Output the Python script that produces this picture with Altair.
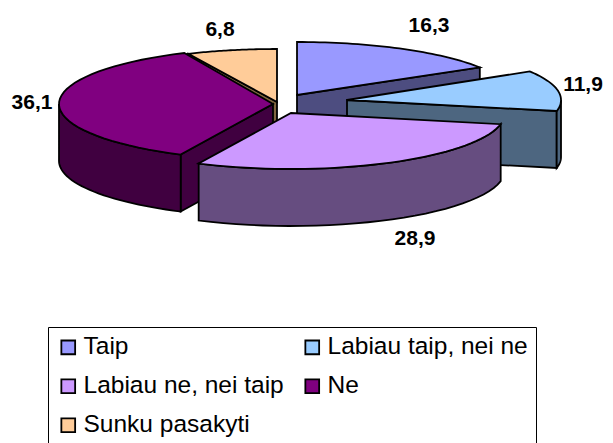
import numpy as np
import altair as alt

series = ["Taip", "Labiau taip, nei ne", "Labiau ne, nei taip", "Ne", "Sunku pasakyti"]
values = [16.3, 11.9, 28.9, 36.1, 6.8]
value_labels = ["16,3", "11,9", "28,9", "36,1", "6,8"]
top_colors = ["#9999ff", "#99ccff", "#cc99ff", "#800080", "#ffcc99"]
side_colors = ["#4d4d80", "#4d6680", "#664d80", "#400040", "#806640"]

# layout of the 3D projection
OX, OY = -8, -8
A, DEPTH = 214, 57
B = [53, 55, 56, 56, 53]
apex = [(297, 95), (347, 100), (291, 113), (273, 104), (277, 102)]
label_xy = [(429, 26), (583, 85), (415, 239), (32, 103), (220, 30)]

cum = np.concatenate([[0], np.cumsum(values)]) * 360 / sum(values)


def rim(i, t):
    r = np.radians(t)
    return (apex[i][0] + A * np.sin(r), apex[i][1] - B[i] * np.cos(r))


def feature(points, name, color):
    pts = [[float(x + OX), float(y + OY)] for x, y in points]
    pts.append(pts[0])
    return {"type": "Feature", "geometry": {"type": "Polygon", "coordinates": [pts]},
            "properties": {"series": name, "shade": color}}


def drop(points):
    return [(x, y + DEPTH) for x, y in reversed(points)]


def top_face(i):
    ts = np.linspace(cum[i], cum[i + 1], 40)
    return [feature([apex[i]] + [rim(i, t) for t in ts], series[i], top_colors[i])]


def cut_face(i, t):
    e = [apex[i], rim(i, t)]
    return feature(e + drop(e), series[i], side_colors[i])


def wall_face(i, lo, hi):
    e = [rim(i, t) for t in np.linspace(lo, hi, 30)]
    return feature(e + drop(e), series[i], side_colors[i])


color_scale = alt.Scale(domain=series, range=top_colors)
legend = alt.Legend(
    title=None, orient="none", legendX=40, legendY=319, direction="horizontal", columns=2,
    symbolType="square", symbolSize=190, symbolStrokeColor="#000000", symbolStrokeWidth=1.8,
    symbolOffset=0, labelFont="Liberation Sans", labelFontSize=24.5, labelColor="#000000", labelLimit=400,
    labelOffset=3, rowPadding=14, columnPadding=16, padding=8, gridAlign="all",
    strokeColor="#000000", fillColor="#ffffff", symbolOpacity=1,
)


def sides(feats):
    return alt.Chart(alt.Data(values=feats)).mark_geoshape(stroke="#000000", strokeWidth=1.8).encode(
        fill=alt.Fill("properties.shade:N", scale=None)
    ).project(type="identity", scale=1, translate=[0, 0])


def tops(feats):
    return alt.Chart(alt.Data(values=feats)).mark_geoshape(stroke="#000000", strokeWidth=1.8).encode(
        fill=alt.Fill("properties.series:N", scale=color_scale, legend=legend)
    ).project(type="identity", scale=1, translate=[0, 0])


layers = [
    sides([cut_face(0, cum[1])]), tops(top_face(0)),
    sides([cut_face(4, cum[4])]), tops(top_face(4)),
    sides([cut_face(3, cum[3]), wall_face(3, cum[3], 270)]), tops(top_face(3)),
    sides([cut_face(1, cum[2]), wall_face(1, 90, cum[2])]), tops(top_face(1)),
    sides([wall_face(2, cum[2], cum[3])]), tops(top_face(2)),
]

label_rows = [{"t": t, "px": x + OX, "py": y + OY} for t, (x, y) in zip(value_labels, label_xy)]
labels = alt.Chart(alt.Data(values=label_rows)).mark_text(
    font="Liberation Sans", fontWeight="bold", fontSize=21, color="#000000"
).encode(x=alt.X("px:Q", scale=None), y=alt.Y("py:Q", scale=None), text="t:N")

chart = alt.layer(*layers, labels).properties(
    width=597, height=435, padding=0, autosize=alt.AutoSizeParams(type="none")
).configure_view(stroke=None)

chart.save("out.html", embed_options={"renderer": "svg", "actions": False})
